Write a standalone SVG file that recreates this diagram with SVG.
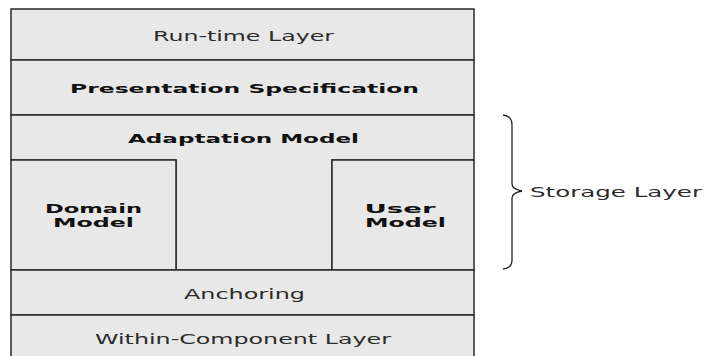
<svg xmlns="http://www.w3.org/2000/svg" width="709" height="356" viewBox="0 0 709 356">
  <style>
    .box { fill: #e8e8e8; stroke: #2a2a2a; stroke-width: 1.5; }
    .t { font-family: "DejaVu Sans", "Liberation Sans", sans-serif; font-size: 14.5px; fill: #2b2b2b; text-anchor: middle; }
    .b { font-weight: bold; font-size: 13px; fill: #111; }
    .brace { fill: none; stroke: #222; stroke-width: 1.3; }
  </style>
  <rect x="0" y="0" width="709" height="356" fill="#ffffff"/>

  <g id="runtime-layer">
    <rect class="box" x="11" y="9" width="463" height="51"/>
    <text class="t" x="243.5" y="40.5" textLength="181" lengthAdjust="spacingAndGlyphs">Run-time Layer</text>
  </g>

  <g id="presentation-specification">
    <rect class="box" x="11" y="60" width="463" height="55"/>
    <text class="t b" x="244.5" y="93" textLength="349" lengthAdjust="spacingAndGlyphs">Presentation Specification</text>
  </g>

  <g id="adaptation-model">
    <path class="box" d="M11 115 H474 V160 H332 V270 H176 V160 H11 Z"/>
    <text class="t b" x="243.5" y="143" textLength="231" lengthAdjust="spacingAndGlyphs">Adaptation Model</text>
  </g>

  <g id="domain-model">
    <rect class="box" x="11" y="160" width="165" height="110"/>
    <text class="t b" x="93.5" y="213" textLength="97" lengthAdjust="spacingAndGlyphs">Domain</text>
    <text class="t b" x="93.5" y="227" textLength="81" lengthAdjust="spacingAndGlyphs">Model</text>
  </g>

  <g id="user-model">
    <rect class="box" x="332" y="160" width="142" height="110"/>
    <text class="t b" x="400" y="213" textLength="71" lengthAdjust="spacingAndGlyphs">User</text>
    <text class="t b" x="405.5" y="227" textLength="81" lengthAdjust="spacingAndGlyphs">Model</text>
  </g>

  <g id="anchoring">
    <rect class="box" x="11" y="270" width="463" height="45"/>
    <text class="t" x="244.5" y="298.5" textLength="121" lengthAdjust="spacingAndGlyphs">Anchoring</text>
  </g>

  <g id="within-component-layer">
    <rect class="box" x="11" y="315" width="463" height="44"/>
    <text class="t" x="243" y="343.5" textLength="296" lengthAdjust="spacingAndGlyphs">Within-Component Layer</text>
  </g>

  <g id="connectors">
    <path class="brace" d="M503 115 Q512 116 512 125 V184 Q512 189 522 191 Q512 193 512 198 V260 Q512 268 503 269"/>
  </g>

  <g id="storage-layer">
    <text class="t" x="616" y="197" textLength="172" lengthAdjust="spacingAndGlyphs">Storage Layer</text>
  </g>
</svg>
